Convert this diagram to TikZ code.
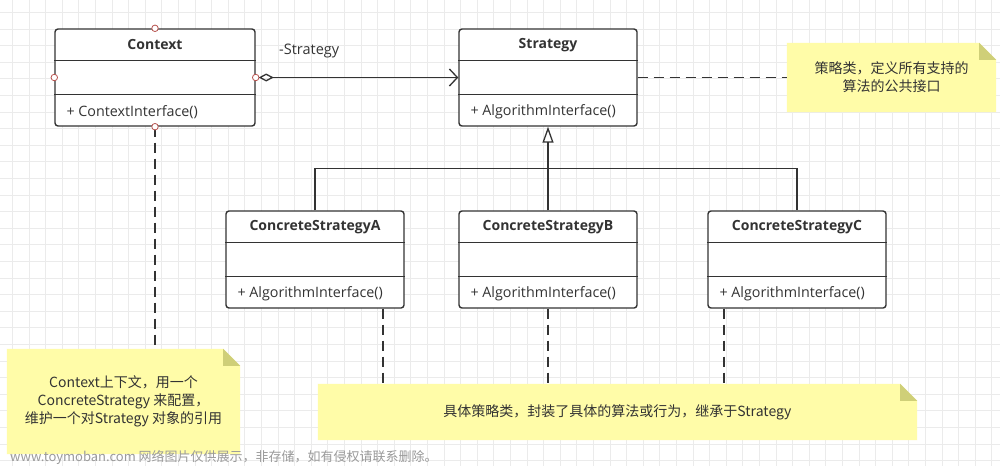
\documentclass[tikz,border=0pt]{standalone}
\usepackage{fontspec}
\setmainfont{Open Sans}
\newfontfamily\cjk{Noto Sans CJK SC}
\usetikzlibrary{arrows.meta}
\definecolor{ink}{HTML}{333333}
\definecolor{gridc}{HTML}{EBEBEB}
\definecolor{notefill}{HTML}{FFFCA8}
\definecolor{foldfill}{HTML}{CFCF78}
\definecolor{portc}{HTML}{B85450}
\definecolor{wmark}{HTML}{9A9A9A}
\tikzset{
  gridline/.style={draw=gridc, line width=0.8pt},
  umlbox/.style={draw=ink, line width=1.4pt, rounded corners=3pt, fill=white, inner sep=0pt},
  umldiv/.style={draw=ink, line width=1.4pt},
  umltitle/.style={text=ink, font=\fontsize{14}{16}\selectfont\bfseries, inner sep=0pt},
  umlmethod/.style={text=ink, font=\fontsize{14.3}{16}\selectfont, inner sep=0pt, anchor=west},
  notebox/.style={inner sep=0pt, align=center, text=ink, font=\cjk\fontsize{14}{18}\selectfont},
  dashline/.style={draw=ink, line width=1.6pt, dash pattern=on 10pt off 6pt},
  solidline/.style={draw=ink, line width=1.5pt},
  port/.style={circle, draw=portc, fill=white, line width=0.8pt, minimum size=6.5pt, inner sep=0pt},
}
\newcommand{\umlclass}[6]{%
  \node[umlbox, minimum width=#4 pt, minimum height=97pt] (#1) at (#2,#3) {};
  \draw[umldiv] ([yshift=-32pt]#1.north west) -- ([yshift=-32pt]#1.north east);
  \draw[umldiv] ([yshift=-66pt]#1.north west) -- ([yshift=-66pt]#1.north east);
  \node[umltitle] (#1-t) at ([yshift=-16.5pt]#1.north) {#5};
  \node[umlmethod] (#1-m) at ([xshift=12pt,yshift=15pt]#1.south west) {#6};
}
\newcommand{\umlnote}[6]{%
  \node[notebox, minimum width=#4 pt, minimum height=#5 pt] (#1) at (#2,#3) {#6};
  \fill[notefill] (#1.north west) -- ([xshift=-17pt]#1.north east) -- ([yshift=-17pt]#1.north east) -- (#1.south east) -- (#1.south west) -- cycle;
  \fill[foldfill] ([xshift=-17pt]#1.north east) -- ([xshift=-17pt,yshift=-17pt]#1.north east) -- ([yshift=-17pt]#1.north east) -- cycle;
  \node[notebox] at (#1.center) {#6};
}
\begin{document}
\begin{tikzpicture}[x=1pt,y=-1pt]
\useasboundingbox (0,0) rectangle (1000,466);
\fill[white] (0,0) rectangle (1000,466);
\foreach \i in {0,...,59} \draw[gridline] ({12.3+16.6*\i},0) -- ({12.3+16.6*\i},466);
\foreach \j in {0,...,27} \draw[gridline] (0,{12.3+16.6*\j}) -- (1000,{12.3+16.6*\j});

% notes
\umlnote{n1}{891.5}{77.5}{209}{69}{策略类，定义所有支持的\\算法的公共接口}
\umlnote{n2}{123.5}{401.5}{233}{105}{Context上下文，用一个\\ConcreteStrategy 来配置，\\维护一个对Strategy 对象的引用}
\umlnote{n3}{617.5}{412}{599}{56}{具体策略类，封装了具体的算法或行为，继承于Strategy}

% classes
\umlclass{ctx}{155}{77.5}{200}{Context}{+ ContextInterface()}
\umlclass{str}{548}{77.5}{178}{Strategy}{+ AlgorithmInterface()}
\umlclass{ca}{315}{259.5}{178}{ConcreteStrategyA}{+ AlgorithmInterface()}
\umlclass{cb}{548}{259.5}{178}{ConcreteStrategyB}{+ AlgorithmInterface()}
\umlclass{cc}{797}{259.5}{178}{ConcreteStrategyC}{+ AlgorithmInterface()}

% aggregation
\draw[solidline, {Diamond[open, length=15pt, width=8pt, line width=1.3pt]}-{Straight Barb[length=8pt, width=17pt, line width=1.3pt]}, shorten <=3pt] (ctx.east) -- (str.west);
\node[anchor=west, text=ink, font=\fontsize{14.5}{16}\selectfont, inner sep=0pt] (lbl) at (279,51) {-Strategy};

% inheritance
\coordinate (jn) at (548,168.5);
\draw[solidline] (ca.north) |- (jn) -| (cc.north);
\draw[solidline, -{Triangle[open, length=16pt, width=11pt, line width=1.3pt]}] (cb.north) -- (str.south);

% dashed note links
\draw[dashline] (str.east) -- (n1.west);
\draw[dashline] (ctx.south) -- (ctx.south |- n2.north);
\draw[dashline] ([xshift=68pt]ca.south) -- ([xshift=68pt]ca.south |- n3.north);
\draw[dashline] (cb.south) -- (cb.south |- n3.north);
\draw[dashline] ([xshift=-73pt]cc.south) -- ([xshift=-73pt]cc.south |- n3.north);

% ports
\node[port] (p1) at (ctx.north) {};
\node[port] (p2) at (ctx.west) {};
\node[port] (p3) at (ctx.east) {};
\node[port] (p4) at (ctx.south) {};

% watermark
\node[anchor=west, inner sep=0pt, text=wmark, font=\cjk\fontsize{13}{15}\selectfont] (wm) at (10,457) {www.toymoban.com 网络图片仅供展示，非存储，如有侵权请联系删除。};
\end{tikzpicture}
\end{document}
